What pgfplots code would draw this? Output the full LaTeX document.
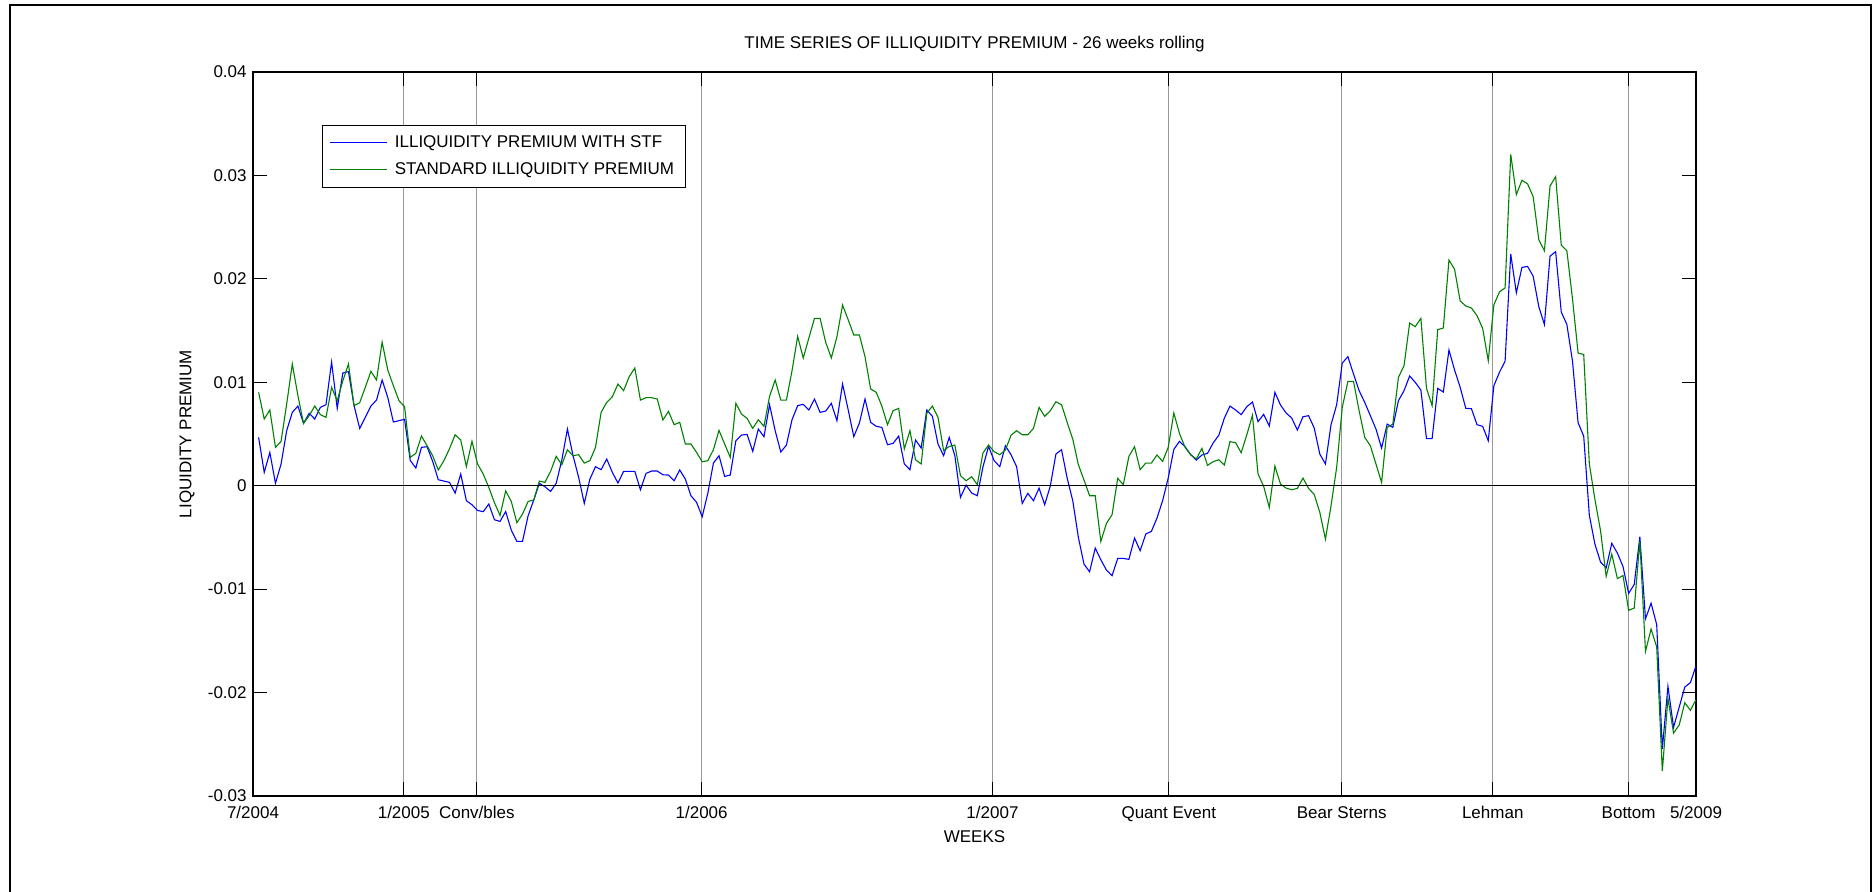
\documentclass[border=0pt]{standalone}
\usepackage{fontspec}
\setmainfont{Liberation Sans}
\usepackage{pgfplots}
\usepackage{pgfplotstable}
\pgfplotsset{compat=1.18}
\definecolor{mblue}{rgb}{0,0,1}
\definecolor{mgreen}{rgb}{0,0.5,0}

\pgfplotstableread{
w stf std
1 0.00467 0.00903
2 0.00129 0.00645
3 0.00322 0.00732
4 0.00023 0.00371
5 0.00210 0.00429
6 0.00532 0.00790
7 0.00709 0.01177
8 0.00770 0.00870
9 0.00603 0.00603
10 0.00700 0.00677
11 0.00645 0.00770
12 0.00758 0.00687
13 0.00783 0.00661
14 0.01196 0.00951
15 0.00748 0.00822
16 0.01090 0.01015
17 0.01103 0.01177
18 0.00774 0.00774
19 0.00554 0.00803
20 0.00661 0.00951
21 0.00770 0.01106
22 0.00828 0.01022
23 0.01022 0.01389
24 0.00854 0.01119
25 0.00616 0.00967
26 0.00629 0.00822
27 0.00642 0.00764
28 0.00245 0.00274
29 0.00171 0.00313
30 0.00371 0.00480
31 0.00377 0.00387
32 0.00235 0.00290
33 0.00058 0.00152
34 0.00045 0.00242
35 0.00032 0.00358
36 -0.00071 0.00493
37 0.00113 0.00442
38 -0.00145 0.00184
39 -0.00184 0.00429
40 -0.00239 0.00210
41 -0.00251 0.00113
42 -0.00177 -0.00016
43 -0.00329 -0.00164
44 -0.00345 -0.00287
45 -0.00250 -0.00050
46 -0.00429 -0.00152
47 -0.00538 -0.00358
48 -0.00538 -0.00274
49 -0.00290 -0.00152
50 -0.00139 -0.00139
51 0.00023 0.00045
52 -0.00010 0.00032
53 -0.00055 0.00139
54 0.00023 0.00284
55 0.00248 0.00203
56 0.00548 0.00348
57 0.00290 0.00290
58 0.00081 0.00300
59 -0.00171 0.00219
60 0.00064 0.00242
61 0.00184 0.00371
62 0.00155 0.00709
63 0.00258 0.00806
64 0.00129 0.00861
65 0.00026 0.00983
66 0.00139 0.00919
67 0.00139 0.01054
68 0.00139 0.01138
69 -0.00039 0.00828
70 0.00119 0.00851
71 0.00142 0.00851
72 0.00142 0.00838
73 0.00106 0.00635
74 0.00103 0.00719
75 0.00048 0.00590
76 0.00152 0.00613
77 0.00064 0.00403
78 -0.00097 0.00403
79 -0.00161 0.00322
80 -0.00300 0.00232
81 -0.00074 0.00242
82 0.00219 0.00348
83 0.00290 0.00535
84 0.00090 0.00403
85 0.00103 0.00274
86 0.00435 0.00796
87 0.00490 0.00693
88 0.00496 0.00651
89 0.00332 0.00554
90 0.00548 0.00638
91 0.00474 0.00574
92 0.00783 0.00864
93 0.00532 0.01022
94 0.00326 0.00828
95 0.00393 0.00828
96 0.00638 0.01112
97 0.00774 0.01444
98 0.00787 0.01235
99 0.00732 0.01428
100 0.00838 0.01618
101 0.00709 0.01618
102 0.00722 0.01386
103 0.00796 0.01235
104 0.00629 0.01441
105 0.00983 0.01747
106 0.00735 0.01605
107 0.00474 0.01457
108 0.00606 0.01457
109 0.00838 0.01248
110 0.00613 0.00935
111 0.00574 0.00903
112 0.00564 0.00770
113 0.00397 0.00590
114 0.00409 0.00725
115 0.00480 0.00748
116 0.00210 0.00355
117 0.00155 0.00532
118 0.00442 0.00251
119 0.00364 0.00210
120 0.00732 0.00700
121 0.00671 0.00770
122 0.00403 0.00661
123 0.00290 0.00339
124 0.00467 0.00380
125 0.00290 0.00393
126 -0.00113 0.00097
127 0.00006 0.00048
128 -0.00071 0.00087
129 -0.00097 0.00010
130 0.00181 0.00316
131 0.00380 0.00393
132 0.00242 0.00329
133 0.00184 0.00300
134 0.00387 0.00345
135 0.00300 0.00487
136 0.00184 0.00532
137 -0.00171 0.00493
138 -0.00074 0.00493
139 -0.00145 0.00554
140 -0.00023 0.00758
141 -0.00184 0.00671
142 -0.00003 0.00725
143 0.00306 0.00812
144 0.00348 0.00783
145 0.00074 0.00613
146 -0.00145 0.00451
147 -0.00500 0.00203
148 -0.00758 0.00055
149 -0.00832 -0.00097
150 -0.00603 -0.00097
151 -0.00716 -0.00538
152 -0.00816 -0.00364
153 -0.00870 -0.00280
154 -0.00703 0.00071
155 -0.00703 0.00010
156 -0.00712 0.00284
157 -0.00506 0.00377
158 -0.00629 0.00155
159 -0.00467 0.00219
160 -0.00442 0.00219
161 -0.00313 0.00297
162 -0.00145 0.00235
163 0.00074 0.00371
164 0.00351 0.00703
165 0.00429 0.00506
166 0.00377 0.00371
167 0.00300 0.00300
168 0.00248 0.00258
169 0.00297 0.00361
170 0.00313 0.00197
171 0.00413 0.00232
172 0.00487 0.00251
173 0.00654 0.00200
174 0.00770 0.00426
175 0.00732 0.00416
176 0.00687 0.00319
177 0.00764 0.00493
178 0.00809 0.00680
179 0.00619 0.00113
180 0.00690 -0.00006
181 0.00577 -0.00210
182 0.00903 0.00190
183 0.00780 0.00016
184 0.00703 -0.00023
185 0.00654 -0.00039
186 0.00538 -0.00026
187 0.00667 0.00074
188 0.00677 -0.00026
189 0.00558 -0.00084
190 0.00306 -0.00258
191 0.00210 -0.00516
192 0.00590 -0.00193
193 0.00783 0.00177
194 0.01186 0.00758
195 0.01248 0.01009
196 0.01080 0.01009
197 0.00919 0.00725
198 0.00806 0.00467
199 0.00677 0.00387
200 0.00548 0.00210
201 0.00364 0.00032
202 0.00596 0.00564
203 0.00564 0.00596
204 0.00822 0.01048
205 0.00919 0.01161
206 0.01061 0.01573
207 0.00999 0.01538
208 0.00925 0.01618
209 0.00455 0.00941
210 0.00455 0.00774
211 0.00941 0.01509
212 0.00906 0.01525
213 0.01312 0.02182
214 0.01119 0.02092
215 0.00951 0.01786
216 0.00748 0.01738
217 0.00745 0.01718
218 0.00590 0.01644
219 0.00574 0.01522
220 0.00435 0.01209
221 0.00967 0.01750
222 0.01097 0.01874
223 0.01205 0.01913
224 0.02241 0.03204
225 0.01865 0.02815
226 0.02111 0.02953
227 0.02120 0.02919
228 0.02025 0.02794
229 0.01731 0.02379
230 0.01559 0.02271
231 0.02219 0.02897
232 0.02263 0.02988
233 0.01680 0.02327
234 0.01559 0.02271
235 0.01205 0.01809
236 0.00609 0.01282
237 0.00479 0.01269
238 -0.00285 0.00212
239 -0.00566 -0.00134
240 -0.00738 -0.00436
241 -0.00794 -0.00877
242 -0.00557 -0.00661
243 -0.00652 -0.00898
244 -0.00782 -0.00868
245 -0.01041 -0.01205
246 -0.00954 -0.01183
247 -0.00492 -0.00535
248 -0.01287 -0.01602
249 -0.01136 -0.01386
250 -0.01343 -0.01559
251 -0.02543 -0.02759
252 -0.01939 -0.02055
253 -0.02336 -0.02392
254 -0.02142 -0.02314
255 -0.01947 -0.02098
256 -0.01904 -0.02172
257 -0.01740 -0.02068
}\premium

\begin{document}
\begin{tikzpicture}[font=\fontsize{8.5}{10}\selectfont]
\useasboundingbox (0,0) rectangle (937.5pt,-446pt);
\fill[white] (0,0) rectangle (937.5pt,-446pt);
\draw[line width=1pt] (5pt,-446pt) -- (5pt,-2.5pt) -- (935.5pt,-2.5pt) -- (935.5pt,-446pt);
\begin{axis}[
  at={(126.5pt,-398pt)}, anchor=south west,
  scale only axis, width=721.5pt, height=362pt,
  xmin=0, xmax=257, ymin=-0.03, ymax=0.04,
  xtick={0,26.86,39.87,79.9,131.7,163.1,193.9,220.8,245.0,257},
  xticklabels={7/2004,1/2005,Conv/bles,1/2006,1/2007,Quant Event,Bear Sterns,Lehman,Bottom,5/2009},
  ytick={-0.03,-0.02,-0.01,0,0.01,0.02,0.03,0.04},
  yticklabels={-0.03,-0.02,-0.01,0,0.01,0.02,0.03,0.04},
  scaled y ticks=false,
  tick align=inside, major tick length=7pt,
  tick style={black, line width=0.5pt},
  axis line style={line width=0.6pt},
  xmajorgrids=true,
  grid style={black!40, line width=0.5pt},
  xticklabel style={anchor=north, inner sep=0pt, yshift=-5pt},
  yticklabel style={anchor=east, inner sep=0pt, xshift=-3pt},
  title={TIME SERIES OF ILLIQUIDITY PREMIUM - 26 weeks rolling},
  title style={at={(axis description cs:0.5,1.022)}, anchor=center, inner sep=0pt},
  xlabel={WEEKS},
  xlabel style={at={(axis description cs:0.5,-0.0566)}, anchor=center, inner sep=0pt},
  ylabel={LIQUIDITY PREMIUM},
  ylabel style={at={(axis description cs:-0.0457,0.5)}, anchor=center, inner sep=0pt},
  legend style={at={(axis description cs:0.048,0.927)}, anchor=north west,
    draw=black, line width=0.5pt, fill=white, inner xsep=3.5pt, inner ysep=3pt,
    font=\fontsize{8.5}{10}\selectfont, row sep=2pt,
    /tikz/every odd column/.append style={column sep=1.5pt}},
  legend cell align=left,
  legend image code/.code={\draw[#1] (0pt,0pt) -- (28.5pt,0pt);},
]
\addplot[mblue, line width=0.55pt] table[x=w, y=stf] {\premium};
\addlegendentry{ILLIQUIDITY PREMIUM WITH STF}
\addplot[mgreen, line width=0.55pt] table[x=w, y=std] {\premium};
\addlegendentry{STANDARD ILLIQUIDITY PREMIUM}
\addplot[black, line width=0.5pt, forget plot] coordinates {(0,0) (257,0)};
\end{axis}
\end{tikzpicture}
\end{document}
